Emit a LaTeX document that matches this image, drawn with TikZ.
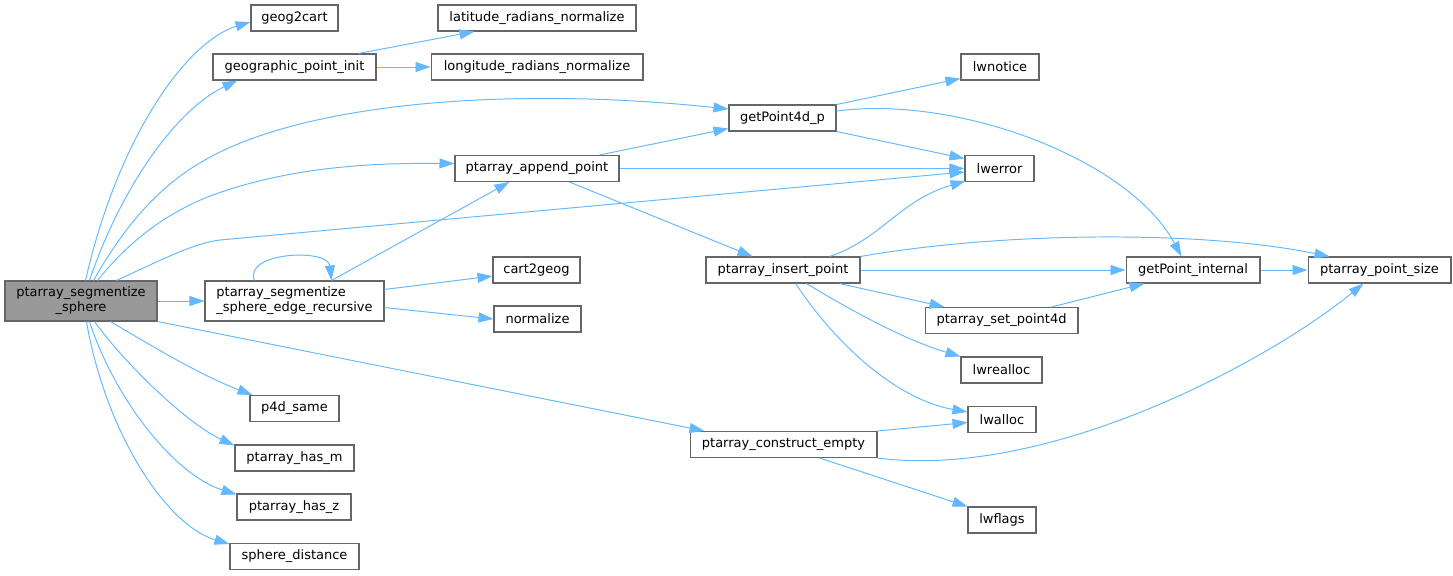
\documentclass[tikz,border=0pt]{standalone}
\usepackage{fontspec}
\setmainfont{DejaVu Sans}
\usetikzlibrary{positioning}
\usetikzlibrary{arrows.meta}
\usetikzlibrary{calc}

\definecolor{edgeblue}{HTML}{63B8FF}
\definecolor{boxgray}{HTML}{666666}
\definecolor{rootgray}{HTML}{999999}

\begin{document}
\begin{tikzpicture}[x=0.02cm,y=-0.02cm,
  fn/.style={draw=boxgray, fill=white, line width=0.6pt, minimum height=0.52cm,
    inner xsep=0.1cm, inner ysep=0pt, font=\fontsize{7.4}{8.5}\selectfont},
  call/.style={draw=edgeblue, line width=0.55pt,
    -{Triangle[length=0.3cm,width=0.2cm,fill=edgeblue]}}]

  \useasboundingbox (0,0) rectangle (1453,575);

  % root function and the recursive helper
  \node[fn, fill=rootgray, minimum width=3.04cm, minimum height=0.8cm, align=center]
    (seg) at (81,301) {ptarray\_segmentize\\\_sphere};
  \node[fn, minimum width=3.58cm, minimum height=0.8cm, align=left]
    (edgerec) at (294.5,301) {ptarray\_segmentize\\\_sphere\_edge\_recursive};

  % second column
  \node[fn, minimum width=1.74cm] (geocart)  at (294.5,18)  {geog2cart};
  \node[fn, minimum width=3.26cm] (geoinit)  at (294.5,67)  {geographic\_point\_init};
  \node[fn, minimum width=1.78cm] (psame)    at (294.5,408.5) {p4d\_same};
  \node[fn, minimum width=2.38cm] (hasm)     at (294.5,458) {ptarray\_has\_m};
  \node[fn, minimum width=2.28cm] (hasz)     at (294,507)   {ptarray\_has\_z};
  \node[fn, minimum width=2.58cm] (spdist)   at (294.5,556.5) {sphere\_distance};

  % third column
  \node[fn, minimum width=3.96cm] (latnorm)  at (537,18)    {latitude\_radians\_normalize};
  \node[fn, minimum width=4.24cm] (lonnorm)  at (537,67)    {longitude\_radians\_normalize};
  \node[fn, minimum width=3.28cm] (append)   at (537,168.5) {ptarray\_append\_point};
  \node[fn, minimum width=1.74cm] (cartgeo)  at (536.5,270) {cart2geog};
  \node[fn, minimum width=1.74cm] (normal)   at (537.5,319) {normalize};

  % fourth column
  \node[fn, minimum width=2.14cm] (getpfour) at (782.5,118) {getPoint4d\_p};
  \node[fn, minimum width=3.08cm] (insert)   at (783,270)   {ptarray\_insert\_point};
  \node[fn, minimum width=3.74cm] (construct) at (783.5,444.5) {ptarray\_construct\_empty};

  % fifth column
  \node[fn, minimum width=1.56cm] (notice)   at (1000,67)    {lwnotice};
  \node[fn, minimum width=1.38cm] (error)    at (999.5,168.5) {lwerror};
  \node[fn, minimum width=3.06cm] (setpfour) at (1001.5,320.5) {ptarray\_set\_point4d};
  \node[fn, minimum width=1.62cm] (realloc)  at (1001.5,370) {lwrealloc};
  \node[fn, minimum width=1.36cm] (alloc)    at (1002,419.5) {lwalloc};
  \node[fn, minimum width=1.36cm] (flags)    at (1002,520)   {lwflags};

  % last columns
  \node[fn, minimum width=2.68cm] (getpint)  at (1193,270)   {getPoint\_internal};
  \node[fn, minimum width=2.86cm] (ptsize)   at (1379.5,270) {ptarray\_point\_size};

  % calls out of the root, upwards
  \draw[call] ($(seg.north west)+(81,0)$) .. controls (120,130) and (190,40) .. ($(geocart.west)+(0,4)$);
  \draw[call] ($(seg.north west)+(85,0)$) .. controls (120,190) and (175,110) .. ($(geoinit.south west)+(25,0)$);
  \draw[call] ($(seg.north west)+(89,0)$) .. controls (125,225) and (160,185) .. (205,160)
    .. controls (300,105) and (500,85) .. ($(getpfour.west)+(0,-9)$);
  \draw[call] ($(seg.north west)+(93,0)$) .. controls (130,240) and (165,215) .. (205,198)
    .. controls (290,165) and (380,163) .. ($(append.west)+(0,-5)$);
  \draw[call] ($(seg.north west)+(112,0)$) .. controls (165,258) and (195,243) .. (220,240)
    -- ($(error.west)+(0,3.5)$);
  \draw[call] (seg.east) -- (edgerec.west);

  % calls out of the root, downwards
  \draw[call] (seg.south east) -- ($(construct.north west)+(15,0)$);
  \draw[call] ($(seg.south west)+(106,0)$) .. controls (150,345) and (200,375) .. ($(psame.north west)+(3,0)$);
  \draw[call] ($(seg.south west)+(90,0)$) .. controls (130,370) and (190,425) .. ($(hasm.north west)+(0,1)$);
  \draw[call] ($(seg.south west)+(85,0)$) .. controls (115,400) and (175,475) .. ($(hasz.north west)+(0,1)$);
  \draw[call] ($(seg.south west)+(82,0)$) .. controls (105,430) and (165,525) .. ($(spdist.north west)+(0,1)$);

  % geographic_point_init
  \draw[call] ($(geoinit.north east)+(-18,0)$) -- ($(latnorm.south west)+(37,0)$);
  \draw[call] (geoinit.east) -- (lonnorm.west);

  % recursive helper
  \draw[call] ($(edgerec.north west)+(50,0)$) .. controls (243,252) and (328,248) .. ($(edgerec.north west)+(127,0)$);
  \draw[call] ($(edgerec.north west)+(127,0)$) -- ($(append.south west)+(55,0)$);
  \draw[call] ($(edgerec.north east)+(0,9)$) -- ($(cartgeo.west)+(0,6)$);
  \draw[call] ($(edgerec.south east)+(0,-14)$) -- (normal.west);

  % ptarray_append_point
  \draw[call] ($(append.north west)+(145,0)$) -- ($(getpfour.south west)+(0,-3)$);
  \draw[call] (append.east) -- (error.west);
  \draw[call] ($(append.south west)+(115,0)$) -- ($(insert.north west)+(47,0)$);

  % getPoint4d_p
  \draw[call] (getpfour.north east) -- ($(notice.south west)+(0,-2)$);
  \draw[call] (getpfour.south east) -- ($(error.west)+(0,-10)$);
  \draw[call] ($(getpfour.east)+(0,-7)$) .. controls (960,95) and (1130,160) .. ($(getpint.north west)+(56,0)$);

  % ptarray_insert_point
  \draw[call] ($(insert.north west)+(124,0)$) .. controls (880,240) and (900,200) .. ($(error.south west)+(1,-1)$);
  \draw[call] (insert.north east) .. controls (1000,232) and (1200,230) .. ($(ptsize.north west)+(22,0)$);
  \draw[call] (insert.east) -- (getpint.west);
  \draw[call] ($(insert.south west)+(134,0)$) -- ($(setpfour.north west)+(20,0)$);
  \draw[call] ($(insert.south west)+(101,0)$) .. controls (850,310) and (905,340) .. (realloc.north west);
  \draw[call] ($(insert.south west)+(90,0)$) .. controls (840,350) and (900,400) .. ($(alloc.west)+(0,-7.5)$);

  % the rest
  \draw[call] ($(setpfour.north west)+(127,0)$) -- ($(getpint.south west)+(19,0)$);
  \draw[call] (getpint.east) -- (ptsize.west);
  \draw[call] (construct.north east) -- ($(alloc.west)+(0,3)$);
  \draw[call] (construct.south east) .. controls (1050,480) and (1270,360) .. ($(ptsize.south west)+(56,0)$);
  \draw[call] ($(construct.south west)+(130,0)$) -- (flags.north west);

\end{tikzpicture}
\end{document}
